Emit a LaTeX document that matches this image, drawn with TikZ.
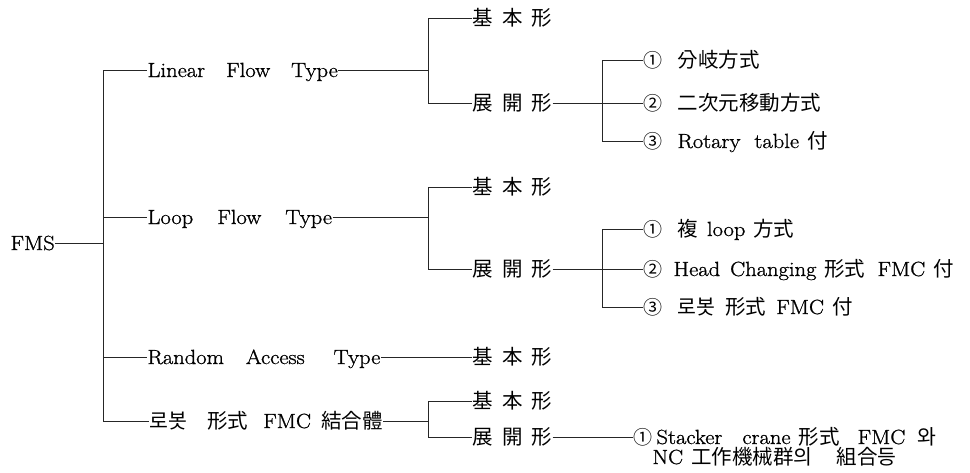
\documentclass[tikz,border=0pt]{standalone}
\usepackage{fontspec}
\setmainfont{Latin Modern Roman}[FakeStretch=1.1, FakeBold=1]
\newfontfamily\cjk[Scale=1.0]{Noto Sans CJK KR}
\newcommand\cj[1]{{\cjk #1}}
\newcommand\cn[1]{{\fontsize{19}{19}\selectfont\cjk #1}}
\newcommand\kbh{\cj{基\hspace{9pt}本\hspace{9pt}形}}
\newcommand\kgh{\cj{展\hspace{9pt}開\hspace{9pt}形}}
\begin{document}
\begin{tikzpicture}[x=1pt,y=-1pt,
  lbl/.style={anchor=west, inner sep=0pt, outer sep=0.5pt, text height=14pt, text depth=0pt,
    font=\fontsize{20.5}{23}\selectfont},
  ln/.style={line width=0.7pt, draw=black!85}]
\fill[white] (0,0) rectangle (970,472);
\useasboundingbox (0,0) rectangle (970,472);
% root
\node[lbl] (FMS) at (10,243) {FMS};
\coordinate (sp) at (103,243);
\coordinate (s1) at (103,70);
\coordinate (s2) at (103,217);
\coordinate (s3) at (103,357);
\coordinate (s4) at (103,421);
% level 1
\node[lbl] (L1) at (147,70) {Linear\hspace{21pt}Flow\hspace{21pt}Type};
\node[lbl] (L2) at (147,217) {Loop\hspace{24pt}Flow\hspace{24pt}Type};
\node[lbl] (L3) at (147,357) {Random\hspace{22pt}Access\hspace{29pt}Type};
\node[lbl] (L4) at (149,421) {\cj{로봇}\hspace{20pt}\cj{形式}\hspace{15pt}FMC\hspace{10pt}\cj{結合體}};
% level 2
\node[lbl] (A1) at (472,18) {\kbh};
\node[lbl] (A2) at (472,103) {\kgh};
\node[lbl] (B1) at (472,187) {\kbh};
\node[lbl] (B2) at (472,269) {\kgh};
\node[lbl] (C1) at (472,357) {\kbh};
\node[lbl] (D1) at (472,401) {\kbh};
\node[lbl] (D2) at (472,437) {\kgh};
% level 3
\node[lbl] (a1) at (643,60) {\cn{①}\hspace{15pt}\cj{分岐方式}};
\node[lbl] (a2) at (643,103) {\cn{②}\hspace{15pt}\cj{二次元移動方式}};
\node[lbl] (a3) at (643,141) {\cn{③}\hspace{15pt}Rotary\hspace{14pt}table\hspace{8pt}\cj{付}};
\node[lbl] (b1) at (643,229) {\cn{①}\hspace{15pt}\cj{複}\hspace{9pt}loop\hspace{8pt}\cj{方式}};
\node[lbl] (b2) at (643,269) {\cn{②}\hspace{11pt}Head\hspace{10pt}Changing\hspace{8pt}\cj{形式}\hspace{12pt}FMC\hspace{8pt}\cj{付}};
\node[lbl] (b3) at (643,307) {\cn{③}\hspace{15pt}\cj{로봇}\hspace{10pt}\cj{形式}\hspace{10pt}FMC\hspace{8pt}\cj{付}};
\node[lbl] (d1) at (633,437) {\cn{①}\hspace{4pt}Stacker\hspace{20pt}crane\hspace{8pt}\cj{形式}\hspace{18pt}FMC\hspace{12pt}\cj{와}};
\node[lbl] (d1b) at (652,457) {NC\hspace{8pt}\cj{工作機械群의}\hspace{24pt}\cj{組合등}};
% junction coordinates
\coordinate (v1a) at (428,18); \coordinate (v1m) at (428,70); \coordinate (v1b) at (428,103);
\coordinate (w1a) at (602,60); \coordinate (w1m) at (602,103); \coordinate (w1b) at (602,141);
\coordinate (v2a) at (428,187); \coordinate (v2m) at (428,217); \coordinate (v2b) at (428,269);
\coordinate (w2a) at (602,229); \coordinate (w2m) at (602,269); \coordinate (w2b) at (602,307);
\coordinate (v4a) at (428,401); \coordinate (v4m) at (428,421); \coordinate (v4b) at (428,437);
% connectors
\draw[ln] (FMS.east) -- (sp);
\draw[ln] (s1) -- (s4);
\draw[ln] (s1) -- (L1.west);
\draw[ln] (s2) -- (L2.west);
\draw[ln] (s3) -- (L3.west);
\draw[ln] (s4) -- (L4.west);
% Linear
\draw[ln] (L1.east) -- (v1m);
\draw[ln] (v1a) -- (v1b);
\draw[ln] (v1a) -- (A1.west);
\draw[ln] (v1b) -- (A2.west);
\draw[ln] (A2.east) -- (w1m);
\draw[ln] (w1a) -- (w1b);
\draw[ln] (w1a) -- (a1.west);
\draw[ln] (w1m) -- (a2.west);
\draw[ln] (w1b) -- (a3.west);
% Loop
\draw[ln] (L2.east) -- (v2m);
\draw[ln] (v2a) -- (v2b);
\draw[ln] (v2a) -- (B1.west);
\draw[ln] (v2b) -- (B2.west);
\draw[ln] (B2.east) -- (w2m);
\draw[ln] (w2a) -- (w2b);
\draw[ln] (w2a) -- (b1.west);
\draw[ln] (w2m) -- (b2.west);
\draw[ln] (w2b) -- (b3.west);
% Random
\draw[ln] (L3.east) -- (C1.west);
% robot
\draw[ln] (L4.east) -- (v4m);
\draw[ln] (v4a) -- (v4b);
\draw[ln] (v4a) -- (D1.west);
\draw[ln] (v4b) -- (D2.west);
\draw[ln] (D2.east) -- (d1.west);
\end{tikzpicture}
\end{document}
